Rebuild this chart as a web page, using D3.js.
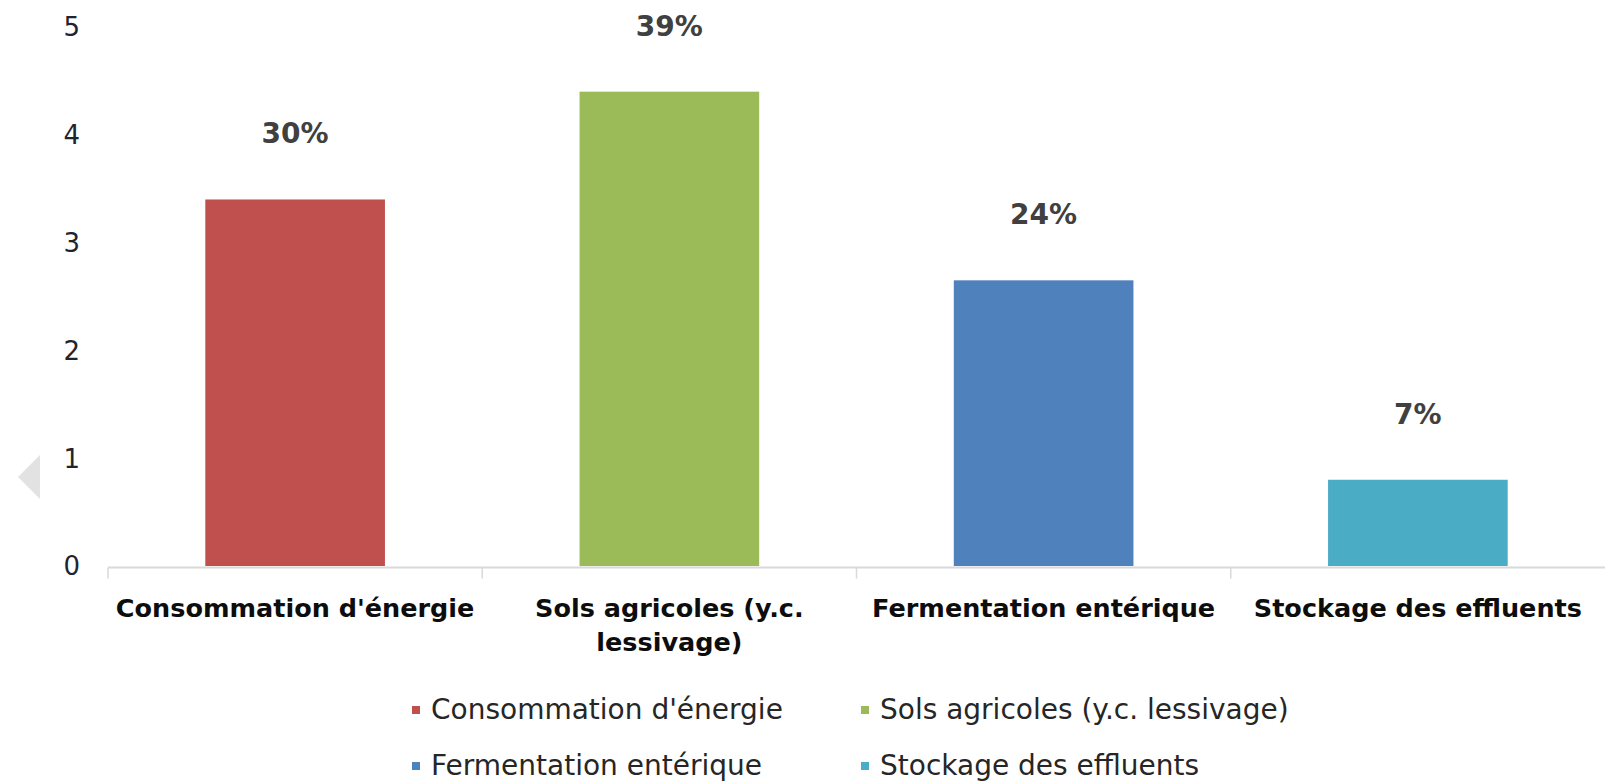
<!DOCTYPE html>
<html lang="fr">
<head>
<meta charset="utf-8">
<title>Émissions agricoles par poste</title>
<script src="https://cdn.jsdelivr.net/npm/d3@7/dist/d3.min.js"></script>
<style>
  html, body { margin: 0; padding: 0; background: #ffffff; }
  svg { display: block; font-family: "DejaVu Sans", sans-serif; }
</style>
</head>
<body>
<svg id="chart" width="1605" height="784"></svg>
<script>
// Emission sources and their values
const categories = [
  "Consommation d'énergie",
  "Sols agricoles (y.c. lessivage)",
  "Fermentation entérique",
  "Stockage des effluents"
];
const values = [3.4, 4.4, 2.65, 0.8];
const shareLabels = ["30%", "39%", "24%", "7%"];
const colors = ["#c0504d", "#9bbb59", "#4f81bd", "#4bacc6"];
const yTicks = [0, 1, 2, 3, 4, 5];

const svg = d3.select("#chart");

const x = d3.scaleBand()
  .domain(categories)
  .range([108, 1605])
  .paddingInner(0.52)
  .paddingOuter(0.26);

const y = d3.scaleLinear()
  .domain([0, 5])
  .range([566, 27]);

const step = x.step();

// slide navigation arrow at the left edge
svg.append("path")
  .attr("d", "M18,477 L40,455 L40,499 Z")
  .attr("fill", "#e2e2e2");

// value axis labels (no axis line)
svg.append("g")
  .selectAll("text")
  .data(yTicks)
  .join("text")
  .attr("x", 80)
  .attr("y", d => y(d))
  .attr("dy", "0.36em")
  .attr("text-anchor", "end")
  .attr("font-size", 26)
  .attr("fill", "#1f2430")
  .text(d => d);

// bars
svg.append("g")
  .selectAll("rect")
  .data(categories)
  .join("rect")
  .attr("x", d => x(d))
  .attr("width", x.bandwidth())
  .attr("y", (d, i) => y(values[i]))
  .attr("height", (d, i) => y(0) - y(values[i]))
  .attr("fill", (d, i) => colors[i]);

// category axis line and boundary ticks
const axisY = 567.5;
const axis = svg.append("g");
axis.append("line")
  .attr("x1", 108).attr("x2", 1605)
  .attr("y1", axisY).attr("y2", axisY)
  .attr("stroke", "#d9d9d9").attr("stroke-width", 2);
axis.selectAll("line.tick")
  .data(categories)
  .join("line")
  .attr("class", "tick")
  .attr("x1", d => x(d) - step * x.paddingOuter())
  .attr("x2", d => x(d) - step * x.paddingOuter())
  .attr("y1", axisY).attr("y2", axisY + 11)
  .attr("stroke", "#d9d9d9").attr("stroke-width", 1.5);

// share labels above the bars
svg.append("g")
  .selectAll("text")
  .data(categories)
  .join("text")
  .attr("x", d => x(d) + x.bandwidth() / 2)
  .attr("y", (d, i) => y(values[i]) - 56)
  .attr("text-anchor", "middle")
  .attr("font-size", 28)
  .attr("font-weight", "bold")
  .attr("fill", "#404040")
  .text((d, i) => shareLabels[i]);

// category labels, wrapped to the band step
const catG = svg.append("g");
categories.forEach(cat => {
  const cx = x(cat) + x.bandwidth() / 2;
  const t = catG.append("text")
    .attr("x", cx)
    .attr("y", 617)
    .attr("text-anchor", "middle")
    .attr("font-size", 25.5)
    .attr("font-weight", "bold")
    .attr("fill", "#0d0d0d");
  const words = cat.split(" ");
  const maxW = step - 6;
  let line = [];
  let tspan = t.append("tspan").attr("x", cx).attr("dy", 0);
  words.forEach(w => {
    line.push(w);
    tspan.text(line.join(" "));
    if (tspan.node().getComputedTextLength() > maxW && line.length > 1) {
      line.pop();
      tspan.text(line.join(" "));
      line = [w];
      tspan = t.append("tspan")
        .attr("x", cx)
        .attr("dy", 34)
        .text(w);
    }
  });
});

// legend: two columns, two rows
const legendCols = [412, 861];
const legendRows = [719, 775];
const legend = svg.append("g");
categories.forEach((cat, i) => {
  const lx = legendCols[i % 2];
  const ly = legendRows[Math.floor(i / 2)];
  legend.append("rect")
    .attr("x", lx).attr("y", ly - 13)
    .attr("width", 8).attr("height", 8)
    .attr("fill", colors[i]);
  legend.append("text")
    .attr("x", lx + 19)
    .attr("y", ly)
    .attr("font-size", 28)
    .attr("fill", "#262626")
    .text(cat);
});
</script>
</body>
</html>
